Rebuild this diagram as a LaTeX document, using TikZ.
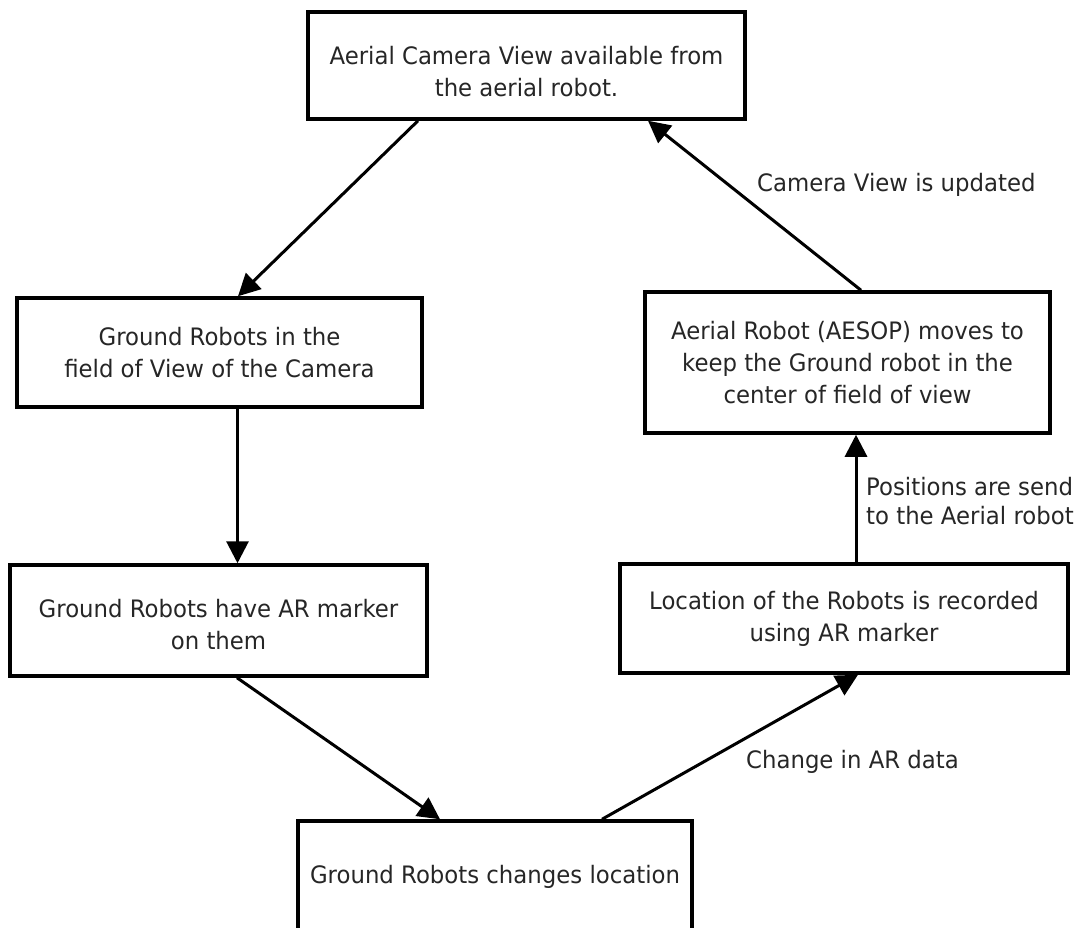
\documentclass[tikz,border=0pt]{standalone}
\usepackage{fontspec}
\setmainfont{DejaVu Sans}[FakeStretch=0.95]
\usetikzlibrary{arrows.meta}
\begin{document}
\begin{tikzpicture}[x=1pt,y=-1pt,
  box/.style={draw=black, line width=3.5pt, fill=white, inner sep=0pt,
    align=center, text=black!85, font=\fontsize{24}{32}\selectfont},
  flow/.style={line width=3pt, -{Triangle[length=22pt,width=22pt]}},
  lbl/.style={anchor=west, inner sep=0pt, text=black!85, align=left,
    font=\fontsize{24}{29}\selectfont}]
\useasboundingbox (0,0) rectangle (1081,928);
\clip (0,0) rectangle (1081,928);
\fill[white] (0,0) rectangle (1081,928);

% process boxes
\node[box, minimum width=437pt, minimum height=107pt] (aerial) at (526.5,65.5)
  {\rule{0pt}{30pt}Aerial Camera View available from\\the aerial robot.};
\node[box, minimum width=405pt, minimum height=109pt] (inview) at (219.5,352.5)
  {Ground Robots in the\\field of View of the Camera};
\node[box, minimum width=417pt, minimum height=111pt] (marker) at (218.5,620.5)
  {\rule{0pt}{26pt}Ground Robots have AR marker\\on them};
\node[box, minimum width=394pt, minimum height=112pt] (moves) at (495,877)
  {Ground Robots changes location};
\node[box, minimum width=448pt, minimum height=109pt] (record) at (844,618.5)
  {Location of the Robots is recorded\\using AR marker};
\node[box, minimum width=405pt, minimum height=141pt] (follow) at (847.5,362.5)
  {Aerial Robot (AESOP) moves to\\keep the Ground robot in the\\center of field of view};

% connectors
\draw[flow] ([xshift=-108.5pt]aerial.south) -- ([xshift=18.5pt]inview.north);
\draw[flow] ([xshift=18pt]inview.south) -- ([xshift=18pt]inview.south |- marker.north);
\draw[flow] ([xshift=18.5pt]marker.south) -- ([xshift=-55pt]moves.north);
\draw[flow] ([xshift=107pt]moves.north) -- ([xshift=14pt]record.south);
\draw[flow] ([xshift=12pt]record.north) -- ([xshift=12pt]record.north |- follow.south);
\draw[flow] ([xshift=13.5pt]follow.north) -- ([xshift=121.5pt]aerial.south);

% connector labels
\node[lbl] (lupdate) at (757,185) {Camera View is updated};
\node[lbl] (lsend) at (866,501) {Positions are send\\to the Aerial robot};
\node[lbl] (lchange) at (746,762) {Change in AR data};
\end{tikzpicture}
\end{document}
